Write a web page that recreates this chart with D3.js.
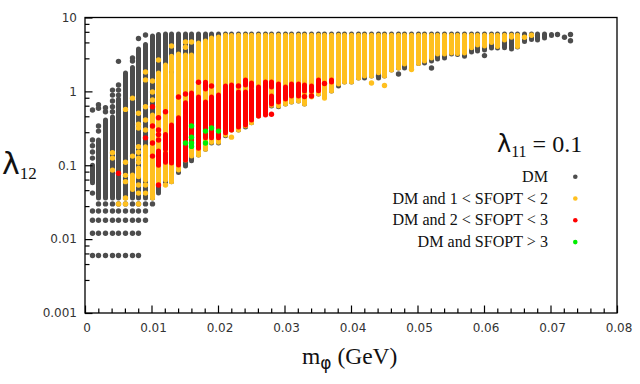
<!DOCTYPE html>
<html>
<head>
<meta charset="utf-8">
<script src="https://cdn.jsdelivr.net/npm/d3@7"></script>
<style>
  html, body { margin: 0; padding: 0; background: #fff; }
  svg { display: block; }
  .tick text { font-family: "DejaVu Sans", sans-serif; font-size: 12px; fill: #333; }
  .serif { font-family: "Liberation Serif", serif; fill: #111; }
  .sans { font-family: "DejaVu Sans", sans-serif; }
</style>
</head>
<body>
<svg id="chart" width="640" height="384"></svg>
<script>
let width = 640, height = 384;

// tick labels
let xTicks = [0, 0.01, 0.02, 0.03, 0.04, 0.05, 0.06, 0.07, 0.08];
let xMinorTicks = [0.002, 0.004, 0.006, 0.008, 0.012, 0.014, 0.016, 0.018, 0.022, 0.024, 0.026, 0.028,
  0.032, 0.034, 0.036, 0.038, 0.042, 0.044, 0.046, 0.048, 0.052, 0.054, 0.056, 0.058,
  0.062, 0.064, 0.066, 0.068, 0.072, 0.074, 0.076, 0.078];
let yTicks = [0.001, 0.01, 0.1, 1, 10];
let yMinorSteps = [2.8, 4.6, 6.4, 8.2]; // minor ticks inside each decade

// the scan is a set of columns, each band is [m, lambda low, lambda high]
let dmBands = [
  [0.001, 0.058, 0.1], [0.002, 0.036, 0.22], [0.003, 0.036, 0.41], [0.004, 0.036, 0.45], [0.005, 0.036, 0.79],
  [0.006, 0.036, 1.77], [0.007, 0.036, 2.1], [0.008, 0.036, 3.74], [0.009, 0.036, 4.3], [0.01, 0.036, 5.6],
  [0.011, 0.042, 5.9], [0.012, 0.058, 6], [0.013, 0.06, 6], [0.014, 0.08, 6], [0.015, 0.098, 6],
  [0.016, 0.115, 6], [0.017, 0.138, 6], [0.018, 0.165, 6], [0.019, 0.2, 6], [0.02, 0.2, 6],
  [0.021, 0.25, 6], [0.022, 0.3, 6], [0.023, 0.3, 6], [0.024, 0.33, 6], [0.025, 0.375, 6],
  [0.026, 0.465, 6], [0.027, 0.495, 6], [0.028, 0.635, 6], [0.029, 0.62, 6], [0.03, 0.675, 6],
  [0.031, 0.72, 6], [0.032, 0.74, 6], [0.033, 0.675, 6], [0.034, 0.865, 6], [0.035, 0.92, 6],
  [0.036, 0.84, 6], [0.037, 1.01, 6], [0.038, 1.18, 6], [0.039, 1.34, 6], [0.04, 1.34, 6],
  [0.041, 1.52, 6], [0.042, 1.52, 6], [0.043, 1.62, 6], [0.044, 1.52, 6], [0.045, 1.62, 6],
  [0.046, 1.94, 6], [0.047, 2.07, 6], [0.048, 2.07, 6], [0.049, 2.2, 6], [0.05, 2.38, 6],
  [0.051, 2.42, 6], [0.052, 2.57, 6], [0.053, 2.74, 6], [0.054, 2.82, 6], [0.055, 3.2, 6],
  [0.056, 3.15, 6], [0.057, 3.0, 6], [0.058, 3.41, 6], [0.059, 3.51, 6], [0.06, 3.63, 6],
  [0.061, 3.86, 6], [0.062, 3.86, 6], [0.063, 3.9, 6], [0.064, 3.74, 6], [0.065, 3.98, 6],
  [0.066, 4.75, 6], [0.067, 5.03, 6], [0.068, 4.96, 6], [0.069, 5.28, 6], [0.07, 5.7, 5.9]
];
let dmDots = [
  [0.001, 0.56], [0.001, 0.22], [0.001, 0.184], [0.001, 0.151], [0.001, 0.125], [0.001, 0.042],
  [0.002, 0.66], [0.002, 0.59], [0.002, 0.34], [0.002, 0.29],
  [0.003, 0.6], [0.003, 0.53],
  [0.004, 1.04], [0.004, 0.89], [0.004, 0.74], [0.004, 0.62], [0.004, 0.53],
  [0.005, 2.55], [0.005, 1.22], [0.005, 1.04], [0.005, 0.89],
  [0.007, 2.84], [0.007, 2.57], [0.008, 5.2], [0.009, 5.8],
  [0.047, 1.72], [0.052, 2.07], [0.044, 1.62], [0.06, 3.05],
  [0.071, 5.9], [0.072, 5.4], [0.073, 5.9], [0.073, 4.85]
];
// bottom rows of the scan, read as separate dots
let rowLambda = [0.006, 0.012, 0.018, 0.024, 0.03];
let rowMasses = [
  [0.001, 0.002, 0.003, 0.004, 0.005, 0.006, 0.007, 0.008],
  [0.001, 0.002, 0.003, 0.004, 0.005, 0.006, 0.007, 0.008],
  [0.001, 0.002, 0.003, 0.004, 0.005, 0.006, 0.007, 0.008, 0.009],
  [0.001, 0.002, 0.003, 0.004, 0.005, 0.006, 0.007, 0.008, 0.009],
  [0.002, 0.003, 0.004, 0.005, 0.006, 0.007, 0.008, 0.009, 0.01]
];

let yellowBands = [
  [0.007, 0.047, 0.074], [0.008, 0.07, 0.092], [0.009, 0.063, 0.178], [0.01, 0.036, 0.48],
  [0.011, 0.058, 1.77], [0.012, 0.063, 2.27], [0.013, 0.06, 1.75], [0.013, 1.9, 3.0], [0.014, 0.086, 3.2],
  [0.015, 0.118, 3.1], [0.016, 0.133, 3.1], [0.017, 0.138, 4.5], [0.018, 0.165, 4.8], [0.019, 0.205, 5.28],
  [0.02, 0.205, 5.44], [0.021, 0.257, 5.75], [0.022, 0.3, 5.7], [0.023, 0.3, 5.75], [0.024, 0.34, 5.75],
  [0.025, 0.375, 5.75], [0.026, 0.465, 5.75], [0.027, 0.495, 5.75], [0.028, 0.65, 5.75], [0.029, 0.635, 5.75],
  [0.03, 0.675, 5.75], [0.031, 0.72, 5.75], [0.032, 0.74, 5.75], [0.033, 0.675, 5.75], [0.034, 0.84, 5.75],
  [0.035, 0.92, 5.75], [0.036, 0.81, 5.75], [0.037, 1.01, 5.75], [0.038, 1.26, 5.75], [0.039, 1.34, 5.75],
  [0.04, 1.34, 5.75], [0.041, 1.52, 5.75], [0.042, 1.62, 5.75], [0.043, 1.62, 5.75], [0.044, 1.79, 5.75],
  [0.045, 1.62, 5.75], [0.046, 1.94, 5.75], [0.047, 2.07, 5.75], [0.048, 2.34, 5.75], [0.049, 2.13, 5.75],
  [0.05, 2.38, 5.75], [0.051, 2.57, 5.75], [0.052, 2.82, 5.75], [0.053, 3.2, 5.75], [0.054, 3.2, 5.75],
  [0.055, 3.3, 5.75], [0.056, 3.25, 5.75], [0.057, 3.3, 5.75], [0.058, 3.9, 5.75], [0.059, 4.24, 5.75],
  [0.06, 4.11, 5.75], [0.061, 4.6, 5.75], [0.062, 4.05, 5.75], [0.063, 4.96, 5.75], [0.064, 5.4, 5.75],
  [0.065, 4.05, 5.75]
];
let yellowDots = [
  [0.004, 0.148], [0.004, 0.125], [0.004, 0.086], [0.005, 0.03],
  [0.006, 0.57], [0.006, 0.11], [0.006, 0.073], [0.006, 0.06], [0.006, 0.036], [0.006, 0.03],
  [0.007, 0.81], [0.007, 0.133], [0.008, 0.505], [0.008, 0.36], [0.008, 0.32], [0.008, 0.178], [0.008, 0.15],
  [0.008, 0.125], [0.008, 0.11], [0.008, 0.054], [0.008, 0.042], [0.008, 0.03],
  [0.009, 1.83], [0.009, 1.43], [0.009, 0.62], [0.009, 0.41], [0.009, 0.3], [0.009, 0.054], [0.009, 0.042],
  [0.01, 1.38], [0.01, 0.98], [0.01, 0.765], [0.011, 2.66], [0.012, 0.054],
  [0.013, 4.11], [0.015, 4.65], [0.015, 3.95], [0.016, 4.65], [0.022, 0.24],
  [0.043, 1.3], [0.045, 1.2], [0.049, 1.98], [0.066, 5.4], [0.067, 5.75]
];

let redBands = [
  [0.011, 0.1, 0.156], [0.012, 0.165, 0.26], [0.012, 0.11, 0.145], [0.013, 0.107, 0.35], [0.014, 0.101, 0.44],
  [0.015, 0.118, 0.7], [0.016, 0.188, 0.95], [0.017, 0.17, 0.84], [0.018, 0.235, 0.72], [0.018, 1.08, 1.33],
  [0.019, 0.235, 0.84], [0.02, 0.235, 0.89], [0.021, 0.275, 1.18], [0.022, 0.3, 1.22], [0.023, 0.33, 0.98],
  [0.024, 0.35, 0.98], [0.024, 1.22, 1.43], [0.025, 0.41, 1.04], [0.025, 1.15, 1.3], [0.026, 0.465, 1.15],
  [0.027, 0.48, 1.04], [0.027, 1.11, 1.34], [0.028, 0.675, 0.865], [0.028, 1.15, 1.34], [0.029, 0.72, 1.15],
  [0.029, 1.11, 1.26], [0.03, 0.79, 1.15], [0.031, 0.865, 1.26], [0.032, 0.865, 1.26], [0.033, 1.01, 1.22],
  [0.034, 1.01, 1.18], [0.035, 1.02, 1.43], [0.037, 1.34, 1.43]
];
let redDots = [
  [0.005, 0.078], [0.009, 0.235], [0.01, 0.62], [0.01, 0.34], [0.01, 0.2], [0.01, 0.133],
  [0.011, 0.44], [0.011, 0.3], [0.011, 0.26], [0.011, 0.22], [0.011, 0.054], [0.012, 0.53],
  [0.014, 0.84], [0.015, 0.92], [0.017, 1.33], [0.019, 1.18], [0.023, 1.18],
  [0.028, 0.49], [0.033, 0.85], [0.034, 0.865], [0.036, 1.28]
];
let greenDots = [
  [0.015, 0.2], [0.016, 0.34], [0.016, 0.24], [0.016, 0.2], [0.016, 0.18],
  [0.018, 0.29], [0.018, 0.2], [0.019, 0.32], [0.02, 0.29]
];

let legendLabels = ["DM", "DM and 1 < SFOPT < 2", "DM and 2 < SFOPT < 3", "DM and SFOPT > 3"];
let legendColors = ["#4d4d4d", "#ffc01f", "#ff0000", "#00ee00"];

let svg = d3.select("#chart");

let x = d3.scaleLinear().domain([0, 0.08]).range([85, 617]);
let y = d3.scaleLog().domain([0.001, 10]).range([313, 17.5]);

let bandWidth = 5;
let dotRadius = 2.7;

// columns sit on whole pixels in the original
function colX(m) {
  return Math.round(x(m)) + 0.5;
}

function drawBands(bands, color) {
  svg.append("g")
    .attr("stroke", color)
    .attr("stroke-width", bandWidth)
    .attr("stroke-linecap", "round")
    .selectAll("line")
    .data(bands)
    .join("line")
    .attr("x1", d => colX(d[0]))
    .attr("x2", d => colX(d[0]))
    .attr("y1", d => y(d[1]))
    .attr("y2", d => y(d[2]));
}

function drawDots(dots, color) {
  svg.append("g")
    .attr("fill", color)
    .selectAll("circle")
    .data(dots)
    .join("circle")
    .attr("cx", d => colX(d[0]))
    .attr("cy", d => y(d[1]))
    .attr("r", dotRadius);
}

let rowDots = [];
rowLambda.forEach((l, i) => rowMasses[i].forEach(m => rowDots.push([m, l])));

drawBands(dmBands, legendColors[0]);
drawDots(dmDots.concat(rowDots), legendColors[0]);
drawBands(yellowBands, legendColors[1]);
drawDots(yellowDots, legendColors[1]);
drawBands(redBands, legendColors[2]);
drawDots(redDots, legendColors[2]);
drawDots(greenDots, legendColors[3]);

// axes, ticks point into the plot
let xAxis = d3.axisBottom(x)
  .tickValues(xTicks)
  .tickSize(-7.5)
  .tickPadding(10)
  .tickFormat(d => d === 0 ? "0" : d3.format(".2f")(d));
let xMinor = d3.axisBottom(x).tickValues(xMinorTicks).tickSize(-4.5).tickFormat("");

let yMinorTicks = [];
yTicks.slice(0, -1).forEach(t => yMinorSteps.forEach(s => yMinorTicks.push(t * s)));
let yAxis = d3.axisLeft(y)
  .tickValues(yTicks)
  .tickSize(-7.5)
  .tickPadding(8)
  .tickFormat(d => d);
let yMinor = d3.axisLeft(y).tickValues(yMinorTicks).tickSize(-4.5).tickFormat("");

svg.append("g").attr("transform", "translate(0,313)").call(xMinor);
let gx = svg.append("g").attr("transform", "translate(0,313)").call(xAxis);
svg.append("g").attr("transform", "translate(85,0)").call(yMinor);
svg.append("g").attr("transform", "translate(85,0)").call(yAxis);

svg.selectAll(".domain").remove();
svg.selectAll(".tick line").attr("stroke", "#000").attr("stroke-width", 1.2);
// text starts two px right of the tick in the original
gx.selectAll(".tick text").attr("dx", 1.5);

svg.append("rect")
  .attr("x", 85)
  .attr("y", 17.5)
  .attr("width", 532)
  .attr("height", 295.5)
  .attr("fill", "none")
  .attr("stroke", "#000")
  .attr("stroke-width", 1.3);

// titles
let xTitle = svg.append("text").attr("class", "serif").attr("x", 302).attr("y", 364).attr("font-size", 23.5);
xTitle.append("tspan").text("m");
xTitle.append("tspan").attr("class", "sans").attr("font-size", 17).attr("dy", 5).text("φ");
xTitle.append("tspan").attr("dy", -5).text(" (GeV)");

let yTitle = svg.append("text").attr("class", "serif").attr("x", 2).attr("y", 174).attr("font-size", 30);
yTitle.append("tspan").attr("class", "sans").text("λ");
yTitle.append("tspan").attr("font-size", 17).attr("dy", 5).text("12");

let note = svg.append("text").attr("class", "serif").attr("x", 497).attr("y", 152).attr("font-size", 24);
note.append("tspan").attr("class", "sans").text("λ");
note.append("tspan").attr("font-size", 16).attr("dy", 5).text("11");
note.append("tspan").attr("dy", -5).text(" = 0.1");

// legend
let legendRows = svg.append("g")
  .selectAll("g")
  .data(legendLabels)
  .join("g")
  .attr("transform", (d, i) => `translate(0,${176.7 + i * 21.8})`);
legendRows.append("text")
  .attr("class", "serif")
  .attr("x", 548)
  .attr("y", 5)
  .attr("text-anchor", "end")
  .attr("font-size", 16.1)
  .text(d => d);
legendRows.append("circle")
  .attr("cx", 575.3)
  .attr("r", 2.3)
  .attr("fill", (d, i) => legendColors[i]);
</script>
</body>
</html>
